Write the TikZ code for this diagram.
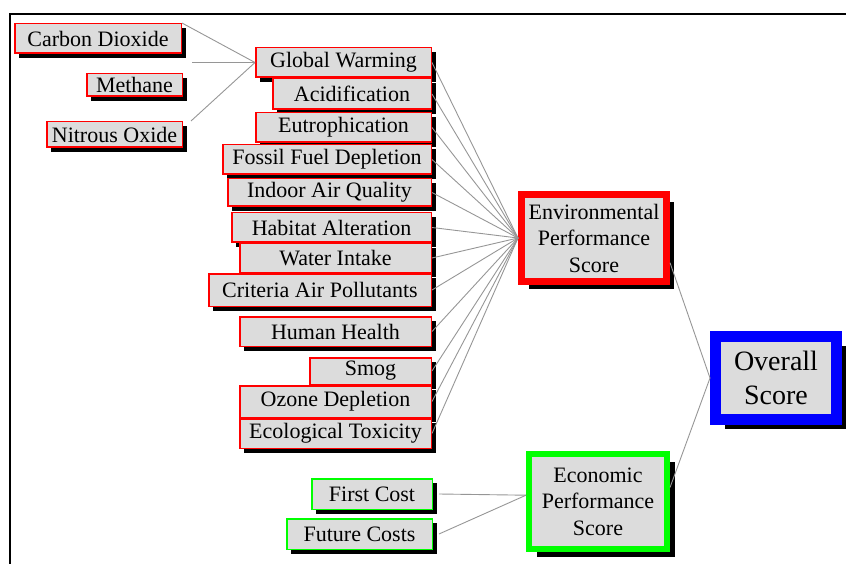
\documentclass[tikz,border=0pt]{standalone}
\usepackage{fontspec}
\setmainfont{Liberation Serif}
\usepackage{tikz}
\usetikzlibrary{shadows}
\definecolor{boxfill}{HTML}{DCDCDC}
\definecolor{envred}{HTML}{FF0000}
\definecolor{ecogreen}{HTML}{00FF00}
\definecolor{allblue}{HTML}{0000FF}
\definecolor{wire}{HTML}{969696}
\tikzset{
  box/.style={draw, fill=boxfill, align=center, inner sep=1pt, font=\fontsize{22}{26.5}\selectfont},
  leaf/.style={box, line width=1.5pt, drop shadow={shadow xshift=4.5pt, shadow yshift=-4.5pt, fill=black, opacity=1}},
  impact/.style={leaf, draw=envred},
  cost/.style={leaf, draw=ecogreen},
  link/.style={draw=wire, line width=0.9pt},
}

\begin{document}
\begin{tikzpicture}[x=1pt, y=-1pt]
  \useasboundingbox (0,0) rectangle (846,564);
  \draw[line width=2.5pt] (846,14) -- (10,14) -- (10,564);

  \node[impact, minimum width=166.5pt, minimum height=29.5pt] (co2) at (98,38.5) {Carbon Dioxide};
  \node[impact, minimum width=95.5pt, minimum height=22.5pt] (ch4) at (134.5,85) {Methane};
  \node[impact, minimum width=135.5pt, minimum height=25.5pt] (n2o) at (114.5,134.5) {Nitrous Oxide};

  \node[impact, minimum width=175.5pt, minimum height=29.5pt] (gw) at (343.5,62.5) {Global Warming};
  \node[impact, minimum width=158.5pt, minimum height=30.5pt] (acid) at (352,94) {Acidification};
  \node[impact, minimum width=175.5pt, minimum height=29.5pt] (eutro) at (343.5,127.5) {Eutrophication};
  \node[impact, minimum width=208.5pt, minimum height=29.5pt] (fossil) at (327,159.5) {Fossil Fuel Depletion};
  \node[impact, minimum width=203.5pt, minimum height=27.5pt] (indoor) at (329.5,192.5) {Indoor Air Quality};
  \node[impact, minimum width=199.5pt, minimum height=29.5pt] (habitat) at (331.5,227.5) {Habitat Alteration};
  \node[impact, minimum width=191.5pt, minimum height=28.5pt] (water) at (335.5,258) {Water Intake};
  \node[impact, minimum width=222.5pt, minimum height=32.5pt] (criteria) at (320,290) {Criteria Air Pollutants};
  \node[impact, minimum width=191.5pt, minimum height=29.5pt] (health) at (335.5,331.5) {Human Health};
  \node[impact, minimum width=121.5pt, minimum height=26.5pt] (smog) at (370.5,371) {Smog};
  \node[impact, minimum width=191.5pt, minimum height=31.5pt] (ozone) at (335.5,401.5) {Ozone Depletion};
  \node[impact, minimum width=191.5pt, minimum height=29.5pt] (eco) at (335.5,433.5) {Ecological Toxicity};

  \node[cost, minimum width=120.5pt, minimum height=30.5pt] (first) at (372,494) {First Cost};
  \node[cost, minimum width=145.5pt, minimum height=30.5pt] (future) at (359.5,534) {Future Costs};

  \node[box, draw=envred, line width=7pt, minimum width=145pt, minimum height=87pt,
    drop shadow={shadow xshift=7.5pt, shadow yshift=-7.5pt, fill=black, opacity=1}] (env) at (594,238) {Environmental\\Performance\\Score};
  \node[box, draw=ecogreen, line width=6pt, minimum width=138pt, minimum height=95pt,
    drop shadow={shadow xshift=7.5pt, shadow yshift=-7.5pt, fill=black, opacity=1}] (econ) at (598,501.5) {Economic\\Performance\\Score};
  \node[box, draw=allblue, line width=11pt, minimum width=121pt, minimum height=83pt, font=\fontsize{28}{34}\selectfont,
    drop shadow={shadow xshift=9pt, shadow yshift=-9pt, fill=black, opacity=1}] (overall) at (776,378) {Overall\\Score};

  \draw[link] (co2.north east) -- (gw.west);
  \draw[link] ([xshift=9pt]gw.west -| ch4.east) -- (gw.west);
  \draw[link] ([xshift=8pt]n2o.north east) -- (gw.west);

  \draw[link] (gw.east) -- (env.west);
  \draw[link] (acid.east) -- (env.west);
  \draw[link] (eutro.east) -- (env.west);
  \draw[link] (fossil.east) -- (env.west);
  \draw[link] (indoor.east) -- (env.west);
  \draw[link] (habitat.east) -- (env.west);
  \draw[link] (water.east) -- (env.west);
  \draw[link] (criteria.east) -- (env.west);
  \draw[link] (health.east) -- (env.west);
  \draw[link] (smog.east) -- (env.west);
  \draw[link] (ozone.east) -- (env.west);
  \draw[link] (eco.east) -- (env.west);

  \draw[link] ([xshift=6pt]first.east) -- (econ.175);
  \draw[link] ([xshift=6pt]future.east) -- (econ.175);

  \draw[link] (env.-18) -- (overall.west);
  \draw[link] (econ.11) -- (overall.west);
\end{tikzpicture}
\end{document}
